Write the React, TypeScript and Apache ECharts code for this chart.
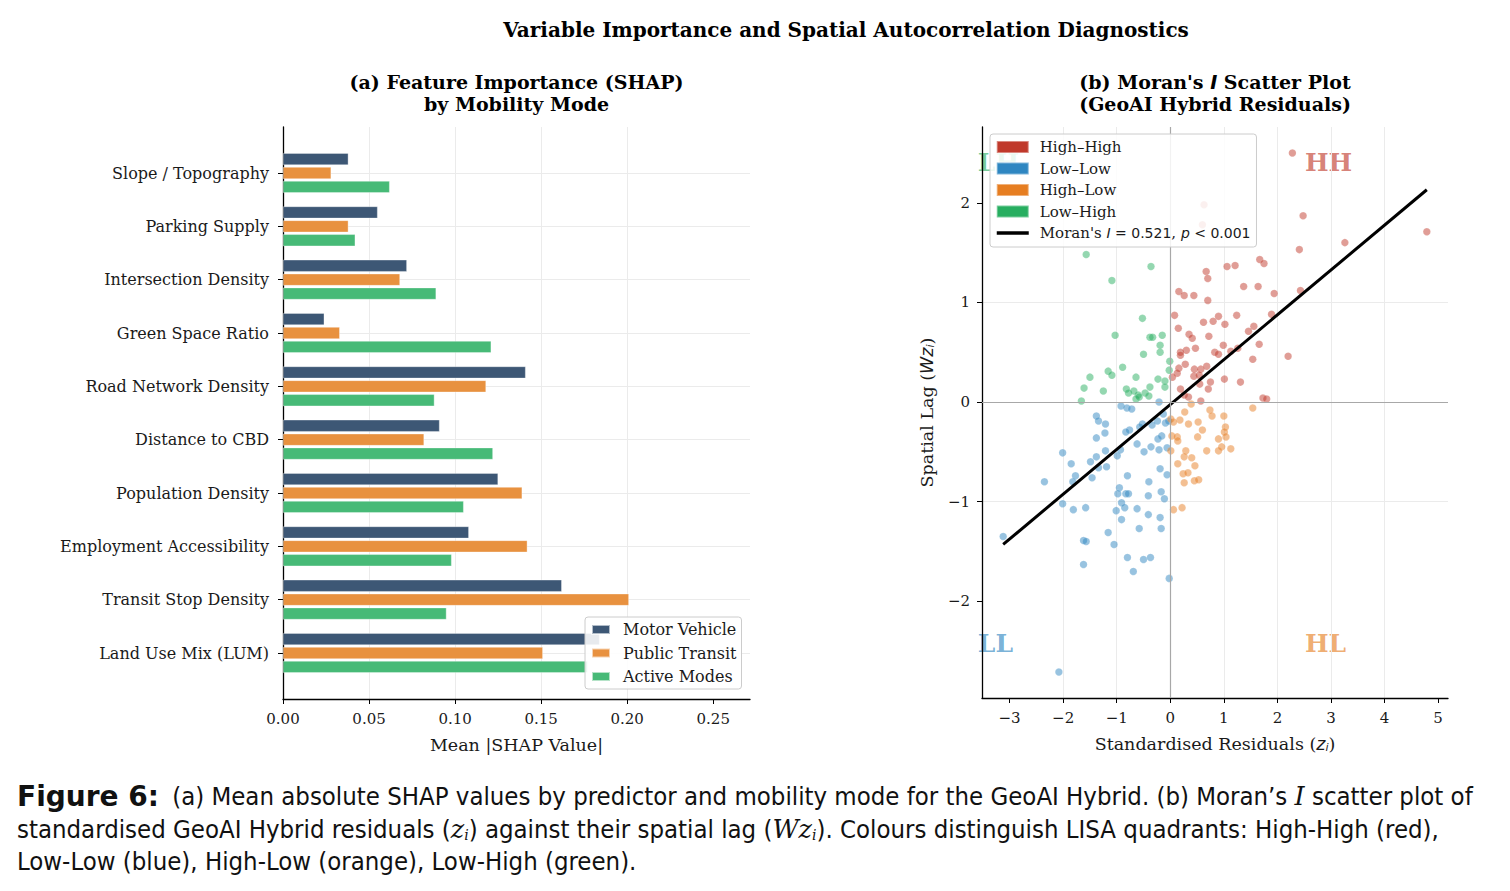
import { useEffect, useRef } from "react";
import * as echarts from "echarts";

// ---------- (a) Mean |SHAP| by predictor and mobility mode (listed top to bottom) ----------
const predictors = [
  "Slope / Topography",
  "Parking Supply",
  "Intersection Density",
  "Green Space Ratio",
  "Road Network Density",
  "Distance to CBD",
  "Population Density",
  "Employment Accessibility",
  "Transit Stop Density",
  "Land Use Mix (LUM)",
];
const motorVehicle = [0.038, 0.055, 0.072, 0.024, 0.141, 0.091, 0.125, 0.108, 0.162, 0.184];
const publicTransit = [0.028, 0.038, 0.068, 0.033, 0.118, 0.082, 0.139, 0.142, 0.201, 0.151];
const activeModes = [0.062, 0.042, 0.089, 0.121, 0.088, 0.122, 0.105, 0.098, 0.095, 0.177];
const shapTicks = [0, 0.05, 0.1, 0.15, 0.2, 0.25];

// ---------- (b) Moran scatter: standardised residual z vs spatial lag Wz ----------
const highHigh: [number, number][] = [
  [2.28, 2.5], [2.48, 1.87], [4.79, 1.71], [3.26, 1.6], [0.63, 1.98], [0.6, 1.78],
  [2.41, 1.53], [1.67, 1.43], [1.75, 1.39], [1.06, 1.36], [1.21, 1.37], [0.67, 1.31],
  [0.7, 1.24], [1.37, 1.16], [1.64, 1.16], [1.94, 1.09], [2.43, 1.12], [0.16, 1.11],
  [0.26, 1.07], [0.44, 1.07], [0.7, 1.02], [0.08, 0.87], [0.9, 0.86], [1.24, 0.87],
  [1.89, 0.88], [0.8, 0.81], [0.62, 0.8], [1.02, 0.78], [0.15, 0.74], [1.56, 0.76],
  [1.46, 0.71], [0.35, 0.68], [0.41, 0.64], [0.72, 0.66], [1.66, 0.58], [0.99, 0.57],
  [0.47, 0.54], [0.3, 0.52], [0.19, 0.5], [0.19, 0.47], [0.83, 0.5], [0.9, 0.48],
  [1.13, 0.51], [1.26, 0.54], [1.54, 0.43], [2.2, 0.46], [0.28, 0.38], [0.16, 0.34],
  [0.45, 0.33], [0.57, 0.33], [0.68, 0.36], [0.44, 0.26], [0.54, 0.27], [0.13, 0.29],
  [0.04, 0.25], [1.01, 0.23], [1.31, 0.2], [0.75, 0.2], [0.55, 0.18], [0.71, 0.13],
  [0.19, 0.13], [0.26, 0.07], [0.34, 0.05], [0.57, 0.01], [1.73, 0.04], [1.8, 0.03],
];
const lowLow: [number, number][] = [
  [-0.21, 0.0], [-0.92, -0.04], [-0.81, -0.06], [-0.72, -0.07], [-1.38, -0.14], [-1.34, -0.19],
  [-1.21, -0.22], [-0.52, -0.22], [-0.57, -0.25], [-0.24, -0.19], [-0.09, -0.21], [-0.34, -0.23],
  [-0.03, -0.19], [-0.13, -0.12], [-0.76, -0.28], [-0.83, -0.3], [-1.22, -0.31], [-1.38, -0.36],
  [-0.23, -0.37], [-0.16, -0.34], [-0.62, -0.42], [-0.36, -0.45], [-0.49, -0.5], [-0.21, -0.48],
  [-0.06, -0.46], [-2.01, -0.51], [-1.21, -0.49], [-0.93, -0.48], [-0.99, -0.54], [-1.38, -0.55],
  [-1.85, -0.62], [-1.49, -0.6], [-1.34, -0.66], [-1.19, -0.65], [-0.19, -0.67], [-0.06, -0.73],
  [-0.8, -0.74], [-1.77, -0.74], [-1.46, -0.76], [-1.82, -0.8], [-2.35, -0.8], [-0.4, -0.8],
  [-0.95, -0.86], [-0.98, -0.92], [-0.83, -0.92], [-0.78, -0.92], [-0.41, -0.94], [-0.17, -0.9],
  [-0.11, -0.97], [-2.01, -1.02], [-0.91, -1.01], [-0.85, -1.06], [-1.81, -1.08], [-1.58, -1.06],
  [-1.01, -1.09], [-0.62, -1.07], [-0.41, -1.13], [-0.19, -1.16], [-0.91, -1.18], [-0.17, -1.27],
  [-0.58, -1.27], [-1.16, -1.31], [-1.62, -1.39], [-1.57, -1.4], [-1.05, -1.43], [-0.8, -1.56],
  [-0.5, -1.58], [-0.37, -1.56], [-1.62, -1.63], [-0.69, -1.7], [-0.02, -1.77], [-3.12, -1.35],
  [-2.08, -2.71],
];
const highLow: [number, number][] = [
  [0.39, -0.02], [1.54, -0.06], [0.74, -0.08], [0.27, -0.1], [0.78, -0.14], [1.0, -0.14],
  [0.18, -0.18], [0.01, -0.17], [0.06, -0.2], [0.52, -0.2], [0.34, -0.22], [1.03, -0.25],
  [0.6, -0.28], [1.01, -0.3], [0.03, -0.34], [0.13, -0.35], [0.14, -0.39], [0.51, -0.35],
  [0.9, -0.37], [1.04, -0.35], [0.96, -0.45], [1.13, -0.47], [0.9, -0.49], [0.68, -0.49],
  [0.29, -0.49], [0.01, -0.49], [0.26, -0.55], [0.4, -0.56], [0.14, -0.62], [0.46, -0.64],
  [0.24, -0.72], [0.33, -0.71], [0.26, -0.81], [0.45, -0.79], [0.53, -0.78], [0.06, -1.08],
  [0.22, -1.06],
];
const lowHigh: [number, number][] = [
  [-1.57, 1.48], [-0.36, 1.36], [-1.09, 1.22], [-0.52, 0.84], [-1.03, 0.67], [-0.38, 0.65],
  [-0.33, 0.65], [-0.15, 0.67], [-0.19, 0.57], [-0.19, 0.5], [-0.5, 0.48], [-0.01, 0.41],
  [-0.89, 0.35], [-1.16, 0.31], [-1.09, 0.27], [-1.5, 0.25], [-0.64, 0.25], [-0.02, 0.32],
  [-0.23, 0.23], [-0.1, 0.21], [-0.1, 0.15], [-0.38, 0.15], [-1.61, 0.14], [-1.25, 0.11],
  [-0.82, 0.13], [-0.78, 0.09], [-0.68, 0.11], [-0.6, 0.07], [-0.47, 0.09], [-0.4, 0.06],
  [-0.64, 0.03], [-1.66, 0.01], [-0.58, 0.05],
];
const moranI = 0.521;
const moranP = 0.001;
const fitSlope = 0.45;
const fitIntercept = -0.025;
const residualTicks = [-3, -2, -1, 0, 1, 2, 3, 4, 5];
const lagTicks = [-2, -1, 0, 1, 2];

// ---------- styling ----------
const SERIF = "'DejaVu Serif', serif";
const SANS = "'DejaVu Sans', sans-serif";
const CAPTION_FONT = "'DejaVu Sans Condensed', 'Liberation Sans Narrow', 'DejaVu Sans', sans-serif";
const INK = "#1a1a1a";
const GRID_LINE = "#ebebeb";
const MODE_COLORS = ["#3d5775", "#e8913f", "#47ba77"];
const LISA = { hh: "#c0392b", ll: "#2e86c1", hl: "#e67e22", lh: "#27ae60" };
const POINT_ALPHA = 0.62;

const PANEL_A = { left: 283, top: 127, width: 467, height: 572 };
const PANEL_B = { left: 982, top: 127, width: 466, height: 571 };
const BAR_INSET = 46; // space between the frame and the outer category centres

const hexA = (hex: string, a: number) => {
  const n = parseInt(hex.slice(1), 16);
  return `rgba(${(n >> 16) & 255},${(n >> 8) & 255},${n & 255},${a})`;
};
const minus = (v: number) => (v < 0 ? "\u2212" + Math.abs(v) : String(v));

const mathRich = {
  i: { fontFamily: SANS, fontStyle: "italic", fontSize: 17.5, color: INK },
  sub: { fontFamily: SANS, fontStyle: "italic", fontSize: 11, color: INK, verticalAlign: "bottom", padding: [6, 0, 0, 0] },
};

export default function App() {
  const ref = useRef<HTMLDivElement>(null);

  useEffect(() => {
    if (!ref.current) return;
    const chart = echarts.init(ref.current, null, { renderer: "svg" });

    const shapMax = Math.max(...motorVehicle, ...publicTransit, ...activeModes) * 1.35;

    const allPts = [...highHigh, ...lowLow, ...highLow, ...lowHigh];
    const xs = allPts.map((p) => p[0]);
    const ys = allPts.map((p) => p[1]);
    const xLo = Math.min(...xs), xHi = Math.max(...xs);
    const yLo = Math.min(...ys), yHi = Math.max(...ys);
    const xPad = (xHi - xLo) * 0.05, yPad = (yHi - yLo) * 0.05;
    const fitLine = [xLo, xHi].map((x) => [x, fitSlope * x + fitIntercept]);

    const moranName = `Moran's I = ${moranI.toFixed(3)}, p < ${moranP.toFixed(3)}`;
    const modeNames = ["Motor Vehicle", "Public Transit", "Active Modes"];
    const modeData = [motorVehicle, publicTransit, activeModes];

    const tickLabel = { fontFamily: SERIF, fontSize: 15, color: INK };

    const option: any = {
      animation: false,
      backgroundColor: "#ffffff",
      textStyle: { fontFamily: SERIF },
      grid: [
        { ...PANEL_A },
        { left: PANEL_A.left, width: PANEL_A.width, top: PANEL_A.top + BAR_INSET, height: PANEL_A.height - 2 * BAR_INSET },
        { ...PANEL_B },
      ],
      xAxis: [
        {
          gridIndex: 0, type: "value", min: 0, max: shapMax, interval: 0.05,
          axisLine: { show: true, lineStyle: { color: "#000", width: 1.3 } },
          axisTick: { show: true, length: 5, customValues: shapTicks, lineStyle: { color: "#000" } },
          axisLabel: { customValues: shapTicks, ...tickLabel, margin: 12, formatter: (v: number) => v.toFixed(2) },
          splitLine: { show: true, showMinLine: false, showMaxLine: false, lineStyle: { color: GRID_LINE, width: 1 } },
          name: "Mean |SHAP Value|", nameLocation: "middle", nameGap: 37,
          nameTextStyle: { fontFamily: SERIF, fontSize: 17.5, color: INK },
        },
        { gridIndex: 1, type: "value", min: 0, max: shapMax, show: false },
        {
          gridIndex: 2, type: "value", min: xLo - xPad, max: xHi + xPad, splitNumber: 9,
          axisLine: { show: true, onZero: false, lineStyle: { color: "#000", width: 1.3 } },
          axisTick: { show: true, length: 5, customValues: residualTicks, lineStyle: { color: "#000" } },
          axisLabel: { customValues: residualTicks, ...tickLabel, margin: 12, formatter: minus },
          splitLine: { show: true, showMinLine: false, showMaxLine: false, lineStyle: { color: GRID_LINE, width: 1 } },
          name: "Standardised Residuals ({i|z}{sub|i})", nameLocation: "middle", nameGap: 37,
          nameTextStyle: { fontFamily: SERIF, fontSize: 17.5, color: INK, rich: mathRich },
        },
      ],
      yAxis: [
        {
          gridIndex: 0, type: "value", min: 0, max: 1,
          axisLine: { show: true, lineStyle: { color: "#000", width: 1.3 } },
          axisTick: { show: false }, axisLabel: { show: false }, splitLine: { show: false },
        },
        {
          gridIndex: 1, type: "category", data: predictors, inverse: true, boundaryGap: false,
          axisLine: { show: false },
          axisTick: { show: true, length: 5, inside: false, lineStyle: { color: "#000" } },
          axisLabel: { ...tickLabel, fontSize: 16, margin: 14 },
          splitLine: { show: true, lineStyle: { color: GRID_LINE, width: 1 } },
        },
        {
          gridIndex: 2, type: "value", min: yLo - yPad, max: yHi + yPad, splitNumber: 6,
          axisLine: { show: true, onZero: false, lineStyle: { color: "#000", width: 1.3 } },
          axisTick: { show: true, length: 5, customValues: lagTicks, lineStyle: { color: "#000" } },
          axisLabel: { customValues: lagTicks, ...tickLabel, margin: 12, formatter: minus },
          splitLine: { show: true, showMinLine: false, showMaxLine: false, lineStyle: { color: GRID_LINE, width: 1 } },
          name: "Spatial Lag ({i|Wz}{sub|i})", nameLocation: "middle", nameGap: 46, nameRotate: 90,
          nameTextStyle: { fontFamily: SERIF, fontSize: 17.5, color: INK, rich: mathRich },
        },
      ],
      legend: [
        {
          orient: "vertical", left: 585, top: 617,
          data: modeNames.map((name) => ({ name, icon: "rect" })),
          itemWidth: 18, itemHeight: 9, itemGap: 6.5,
          textStyle: { fontFamily: SERIF, fontSize: 16, color: INK, lineHeight: 17, padding: [0, 0, 0, 8] },
          backgroundColor: "rgba(255,255,255,0.88)", borderColor: "#cccccc", borderWidth: 1, borderRadius: 3,
          padding: [4, 5, 4, 6],
          selectedMode: false,
        },
        {
          orient: "vertical", left: 990, top: 134,
          data: [
            { name: "High\u2013High", icon: "rect", itemStyle: { color: LISA.hh, opacity: 1 } },
            { name: "Low\u2013Low", icon: "rect", itemStyle: { color: LISA.ll, opacity: 1 } },
            { name: "High\u2013Low", icon: "rect", itemStyle: { color: LISA.hl, opacity: 1 } },
            { name: "Low\u2013High", icon: "rect", itemStyle: { color: LISA.lh, opacity: 1 } },
            {
              name: moranName,
              itemStyle: { color: "rgba(0,0,0,0)", borderWidth: 0, opacity: 0 },
              lineStyle: { color: "#000", width: 3.5, opacity: 1 },
            },
          ],
          formatter: (name: string) =>
            name === moranName
              ? `Moran's {mi|I}{m| = ${moranI.toFixed(3)}}, {mi|p}{m| < ${moranP.toFixed(3)}}`
              : name,
          itemWidth: 32, itemHeight: 12, itemGap: 5.5,
          textStyle: {
            fontFamily: SERIF, fontSize: 15, color: INK, lineHeight: 16, padding: [0, 0, 0, 6],
            rich: {
              m: { fontFamily: SANS, fontSize: 14, color: INK },
              mi: { fontFamily: SANS, fontStyle: "italic", fontSize: 14, color: INK },
            },
          },
          backgroundColor: "rgba(255,255,255,0.85)", borderColor: "#cccccc", borderWidth: 1, borderRadius: 3,
          padding: [5, 6, 6, 5],
          selectedMode: false,
          z: 10,
        },
      ],
      series: [
        ...modeNames.map((name, i) => ({
          type: "bar", name, xAxisIndex: 1, yAxisIndex: 1, data: modeData[i],
          barWidth: 12, barGap: "16%",
          itemStyle: { color: MODE_COLORS[i], borderColor: "rgba(255,255,255,0.6)", borderWidth: 0.6 },
          z: 3,
        })),
        {
          type: "line", name: "zero-reference", xAxisIndex: 2, yAxisIndex: 2, data: [], z: 1,
          markLine: {
            silent: true, symbol: "none", label: { show: false },
            lineStyle: { color: "#a8a8a8", width: 1.2, type: "solid" },
            data: [{ xAxis: 0 }, { yAxis: 0 }],
          },
        },
        ...([
          ["High\u2013High", highHigh, LISA.hh],
          ["Low\u2013Low", lowLow, LISA.ll],
          ["High\u2013Low", highLow, LISA.hl],
          ["Low\u2013High", lowHigh, LISA.lh],
        ] as [string, [number, number][], string][]).map(([name, pts, color]) => ({
          type: "scatter", name, xAxisIndex: 2, yAxisIndex: 2, data: pts,
          symbolSize: 7.5,
          itemStyle: { color: hexA(color, POINT_ALPHA), borderColor: "rgba(255,255,255,0.4)", borderWidth: 0.4 },
          z: 3,
        })),
        {
          type: "line", name: moranName, xAxisIndex: 2, yAxisIndex: 2, data: fitLine,
          symbol: "none", lineStyle: { color: "#000", width: 3 }, itemStyle: { color: "#000" }, z: 4,
        },
      ],
      graphic: {
        elements: [
          {
            type: "text", x: 846, y: 30, z: 5,
            style: {
              text: "Variable Importance and Spatial Autocorrelation Diagnostics",
              fontFamily: SERIF, fontWeight: "bold", fontSize: 20, fill: "#000",
              align: "center", verticalAlign: "middle",
            },
          },
          {
            type: "text", x: PANEL_A.left + PANEL_A.width / 2, y: 93, z: 5,
            style: {
              text: "(a) Feature Importance (SHAP)\nby Mobility Mode",
              fontFamily: SERIF, fontWeight: "bold", fontSize: 19, lineHeight: 22, fill: "#000",
              align: "center", verticalAlign: "middle",
            },
          },
          {
            type: "text", x: PANEL_B.left + PANEL_B.width / 2, y: 93, z: 5,
            style: {
              text: "(b) Moran's {mi|I} Scatter Plot\n(GeoAI Hybrid Residuals)",
              fontFamily: SERIF, fontWeight: "bold", fontSize: 19, lineHeight: 22, fill: "#000",
              align: "center", verticalAlign: "middle",
              rich: { mi: { fontFamily: SANS, fontStyle: "italic", fontWeight: "bold", fontSize: 19, lineHeight: 22 } },
            },
          },
          ...([
            ["LH", LISA.lh, -0.009, 0.063],
            ["HH", LISA.hh, 0.693, 0.063],
            ["LL", LISA.ll, -0.009, 0.904],
            ["HL", LISA.hl, 0.693, 0.904],
          ] as [string, string, number, number][]).map(([t, c, fx, fy]) => ({
            type: "text", z: 0, zlevel: 0,
            x: PANEL_B.left + fx * PANEL_B.width, y: PANEL_B.top + fy * PANEL_B.height,
            style: {
              text: t, fontFamily: SERIF, fontWeight: "bold", fontSize: 25,
              fill: hexA(c, 0.65), align: "left", verticalAlign: "middle",
            },
          })),
          ...[
            "{b|Figure 6:} (a) Mean absolute SHAP values by predictor and mobility mode for the GeoAI Hybrid. (b) Moran\u2019s {m|I} scatter plot of",
            "standardised GeoAI Hybrid residuals ({m|z}{s|i}) against their spatial lag ({m|Wz}{s|i}). Colours distinguish LISA quadrants: High-High (red),",
            "Low-Low (blue), High-Low (orange), Low-High (green).",
          ].map((line, k) => ({
            type: "text", x: 17, y: 796 + k * 32.5, z: 5,
            style: {
              text: line, fontFamily: CAPTION_FONT, fontSize: 25.5, fill: "#111",
              align: "left", verticalAlign: "middle",
              rich: {
                b: { fontFamily: SANS, fontWeight: "bold", fontSize: 28, fill: "#111", padding: [0, 6, 0, 0] },
                m: { fontFamily: SERIF, fontStyle: "italic", fontSize: 25.5, fill: "#111" },
                s: { fontFamily: SERIF, fontStyle: "italic", fontSize: 14, fill: "#111", verticalAlign: "bottom", padding: [10, 0, 0, 0] },
              },
            },
          })),
        ],
      },
    };

    chart.setOption(option);
    return () => chart.dispose();
  }, []);

  return (
    <div
      ref={ref}
      style={{ position: "fixed", left: 0, top: 0, width: 1510, height: 891, background: "#fff" }}
    />
  );
}
